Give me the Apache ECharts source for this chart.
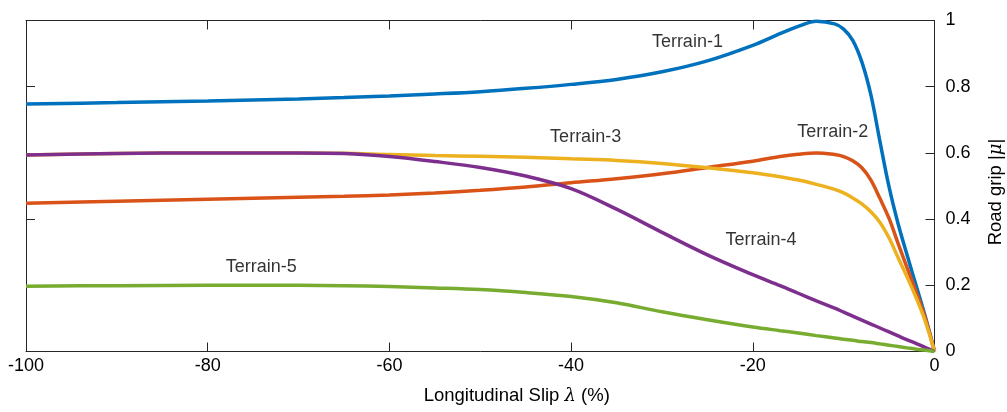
<!DOCTYPE html>
<html>
<head>
<meta charset="utf-8">
<script src="https://cdn.jsdelivr.net/npm/echarts@6/dist/echarts.min.js"></script>
<style>
  html, body { margin: 0; padding: 0; background: #fff; }
  #chart { width: 1007px; height: 412px; }
</style>
</head>
<body>
<div id="chart"></div>
<script>
// slip values (%) shared by all curves
var slip = [-100, -90, -80, -70, -65, -60, -55, -50, -45, -40, -35, -30, -25, -20,
  -17, -15, -13, -11, -10, -9, -8, -7, -6, -5, -4, -3, -2, -1, 0];

var terrain1 = [0.748, 0.752, 0.757, 0.763, 0.767, 0.772, 0.778, 0.785, 0.795, 0.807, 0.822, 0.845, 0.878, 0.925,
  0.960, 0.982, 0.998, 0.990, 0.974, 0.940, 0.875, 0.775, 0.634, 0.497, 0.385, 0.290, 0.197, 0.104, 0];
var terrain2 = [0.448, 0.454, 0.460, 0.466, 0.469, 0.473, 0.479, 0.487, 0.497, 0.510, 0.522, 0.537, 0.556, 0.575,
  0.589, 0.596, 0.600, 0.595, 0.589, 0.576, 0.555, 0.518, 0.462, 0.402, 0.326, 0.252, 0.178, 0.100, 0];
var terrain3 = [0.594, 0.598, 0.600, 0.600, 0.599, 0.595, 0.592, 0.590, 0.587, 0.582, 0.577, 0.568, 0.555, 0.540,
  0.528, 0.518, 0.505, 0.490, 0.479, 0.464, 0.446, 0.422, 0.390, 0.343, 0.283, 0.224, 0.161, 0.090, 0];
var terrain4 = [0.594, 0.598, 0.600, 0.600, 0.598, 0.589, 0.574, 0.556, 0.530, 0.492, 0.430, 0.360, 0.292, 0.232,
  0.199, 0.176, 0.153, 0.131, 0.119, 0.107, 0.095, 0.083, 0.071, 0.059, 0.047, 0.035, 0.024, 0.012, 0];
var terrain5 = [0.197, 0.199, 0.200, 0.200, 0.199, 0.196, 0.192, 0.187, 0.178, 0.166, 0.147, 0.120, 0.096, 0.074,
  0.063, 0.056, 0.048, 0.041, 0.037, 0.034, 0.030, 0.027, 0.023, 0.019, 0.015, 0.011, 0.007, 0.004, 0];

var names = ['Terrain-1', 'Terrain-2', 'Terrain-3', 'Terrain-4', 'Terrain-5'];
var colors = ['#0072BD', '#D95319', '#EDB120', '#7E2F8E', '#77AC30'];

// where the curve names sit, in data coordinates
var labelX = [-27.2, -11.2, -38.4, -19.1, -74.1];
var labelY = [0.935, 0.662, 0.647, 0.338, 0.255];

var chart = echarts.init(document.getElementById('chart'));
var curves = [terrain1, terrain2, terrain3, terrain4, terrain5];
var font = 'Liberation Sans, Arial, Helvetica, sans-serif';
var axisColor = '#262626';

var series = curves.map(function (vals, i) {
  return {
    name: names[i],
    type: 'line',
    data: slip.map(function (s, j) { return [s, vals[j]]; }),
    showSymbol: false,
    smooth: 0.35,
    lineStyle: { width: 3.5, color: colors[i] },
    itemStyle: { color: colors[i] },
    z: 2 + i
  };
});

series.push({
  type: 'scatter',
  data: names.map(function (n, i) { return { name: n, value: [labelX[i], labelY[i]] }; }),
  symbolSize: 1,
  itemStyle: { color: 'rgba(0,0,0,0)' },
  label: {
    show: true,
    position: 'inside',
    formatter: function (p) { return p.name; },
    color: '#000',
    fontFamily: font,
    fontSize: 18
  },
  z: 10
});

var tickStyle = { show: true, inside: true, length: 9, lineStyle: { color: axisColor } };
var lineStyle = { show: true, onZero: false, lineStyle: { color: axisColor } };
var italic = { fontStyle: 'italic', fontFamily: 'DejaVu Serif, serif', fontSize: 18, color: '#000' };

chart.setOption({
  animation: false,
  grid: { left: 26, right: 72.5, top: 20.5, bottom: 60.5, outerBoundsMode: 'none', containLabel: false },
  xAxis: [
    {
      type: 'value', min: -100, max: 0, interval: 20,
      position: 'bottom',
      axisLine: lineStyle,
      axisTick: tickStyle,
      splitLine: { show: false },
      axisLabel: { color: '#000', fontFamily: font, fontSize: 18, margin: 6 },
      name: 'Longitudinal Slip {i|λ} (%)',
      nameLocation: 'middle',
      nameGap: 35,
      nameTextStyle: {
        color: '#000', fontFamily: font, fontSize: 18.5,
        padding: [0, 0, 0, 73],
        rich: { i: italic }
      }
    },
    {
      type: 'value', min: -100, max: 0, interval: 20,
      position: 'top',
      axisLine: lineStyle,
      axisTick: tickStyle,
      splitLine: { show: false },
      axisLabel: { show: false }
    }
  ],
  yAxis: [
    {
      type: 'value', min: 0, max: 1, interval: 0.2,
      position: 'right',
      axisLine: lineStyle,
      axisTick: tickStyle,
      splitLine: { show: false },
      axisLabel: { color: '#000', fontFamily: font, fontSize: 18, margin: 11 },
      name: 'Road grip |{i|μ}|',
      nameLocation: 'middle',
      nameRotate: 90,
      nameGap: 52,
      nameTextStyle: {
        color: '#000', fontFamily: font, fontSize: 18.5,
        padding: [0, 12, 0, 0],
        rich: { i: italic }
      }
    },
    {
      type: 'value', min: 0, max: 1, interval: 0.2,
      position: 'left',
      axisLine: lineStyle,
      axisTick: tickStyle,
      splitLine: { show: false },
      axisLabel: { show: false }
    }
  ],
  series: series
});
</script>
</body>
</html>
